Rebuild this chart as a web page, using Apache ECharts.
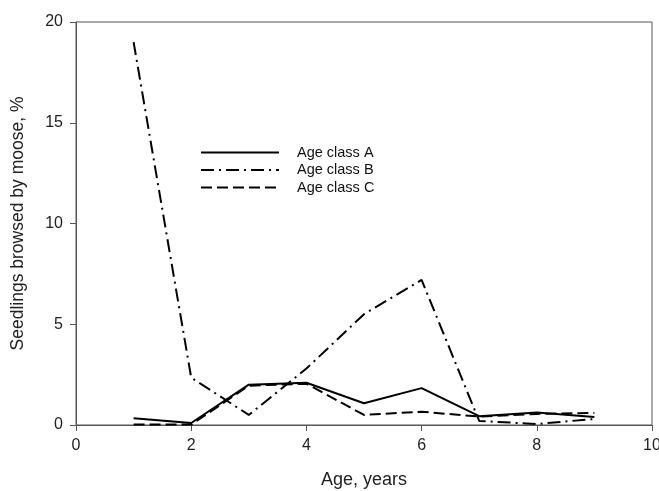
<!DOCTYPE html>
<html><head><meta charset="utf-8">
<script src="https://cdn.jsdelivr.net/npm/echarts@6/dist/echarts.min.js"></script>
<style>html,body{margin:0;padding:0;background:#fff}#c{width:659px;height:491px}</style>
</head><body><div id="c"></div>
<script>
const ages = [1, 2, 3, 4, 5, 6, 7, 8, 9];
const classA = [0.33, 0.1, 2.0, 2.1, 1.08, 1.83, 0.44, 0.62, 0.4];
const classB = [19.0, 2.35, 0.5, 2.8, 5.5, 7.2, 0.2, 0.05, 0.3];
const classC = [0.02, 0.02, 1.95, 2.05, 0.5, 0.66, 0.42, 0.55, 0.6];
const seriesNames = ['Age class A', 'Age class B', 'Age class C'];
const xTicks = [0, 2, 4, 6, 8, 10];

const font = 'Liberation Sans, Arial, sans-serif';
const pair = arr => ages.map((a, i) => [a, arr[i]]);
const chart = echarts.init(document.getElementById('c'));
const axisCol = '#555';
chart.setOption({
  animation: false,
  grid: { left: 76, right: 7, top: 22, bottom: 66, show: true, borderColor: axisCol, borderWidth: 1,
    containLabel: false, outerBoundsMode: 'none' },
  legend: {
    orient: 'vertical', left: 195, top: 140, itemWidth: 78, itemHeight: 12, itemGap: 2.5,
    data: seriesNames,
    itemStyle: { opacity: 0 },
    textStyle: { fontFamily: font, fontSize: 14.5, color: '#111', padding: [0, 0, 0, 13] }
  },
  xAxis: {
    type: 'value', min: 0, max: 10, interval: 2,
    name: 'Age, years', nameLocation: 'middle', nameGap: 46,
    nameTextStyle: { fontFamily: font, fontSize: 18, color: '#222' },
    axisLine: { show: true, onZero: false, lineStyle: { color: axisCol } },
    axisTick: { show: true, length: 6, lineStyle: { color: axisCol } },
    axisLabel: { fontFamily: font, fontSize: 16, color: '#222', margin: 13,
      formatter: v => xTicks.includes(v) ? String(v) : '' },
    splitLine: { show: false }
  },
  yAxis: {
    type: 'value', min: 0, max: 20, interval: 5,
    name: 'Seedlings browsed by moose, %', nameLocation: 'middle', nameGap: 49,
    nameTextStyle: { fontFamily: font, fontSize: 17.5, color: '#222' },
    axisLine: { show: true, lineStyle: { color: axisCol } },
    axisTick: { show: true, length: 6, lineStyle: { color: axisCol } },
    axisLabel: { fontFamily: font, fontSize: 16, color: '#222', margin: 13 },
    splitLine: { show: false }
  },
  series: [
    { name: seriesNames[0], type: 'line', data: pair(classA), symbol: 'none',
      lineStyle: { color: '#000', width: 2, type: 'solid' }, itemStyle: { color: '#000' } },
    { name: seriesNames[1], type: 'line', data: pair(classB), symbol: 'none',
      lineStyle: { color: '#000', width: 2, type: [13, 5, 2, 5] }, itemStyle: { color: '#000' } },
    { name: seriesNames[2], type: 'line', data: pair(classC), symbol: 'none',
      lineStyle: { color: '#000', width: 2, type: [11, 5] }, itemStyle: { color: '#000' } }
  ]
});
</script></body></html>
